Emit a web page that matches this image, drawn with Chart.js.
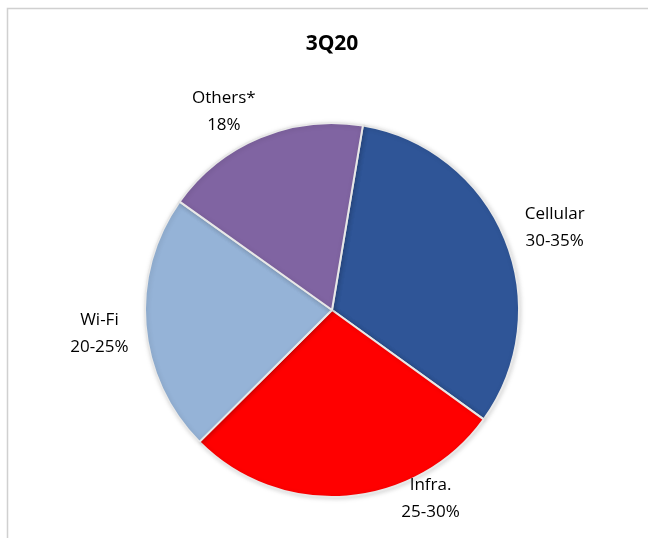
<!DOCTYPE html>
<html>
<head>
<meta charset="utf-8">
<script src="https://cdn.jsdelivr.net/npm/chart.js@4.4.1/dist/chart.umd.min.js"></script>
<style>
  html, body { margin: 0; padding: 0; background: #fff; }
  #wrap { width: 648px; height: 538px; }
</style>
</head>
<body>
<div id="wrap"><canvas id="pieChart" width="648" height="538"></canvas></div>
<script>
// data
var categories = ['Cellular', 'Infra.', 'Wi-Fi', 'Others*'];
var shareValues = [32.3, 27.6, 22.3, 17.8];
var shareLabels = ['30-35%', '25-30%', '20-25%', '18%'];
var chartTitle = '3Q20';

var sliceColors = ['#2F5597', '#FF0000', '#95B3D7', '#8064A2'];
// label placement: angle shift from slice middle (deg) and distance as radius factor
var labelPlace = [
    { shift: 2, dist: 1.27 },
    { shift: -23, dist: 1.14 },
    { shift: -1, dist: 1.25 },
    { shift: -6, dist: 1.21 }
];

var fontName = '"Open Sans", "Noto Sans", sans-serif';

var frameAndText = {
    id: 'frameAndText',
    beforeDraw: function(chart) {
        var c = chart.ctx;
        c.save();
        c.strokeStyle = '#d0d0d0';
        c.lineWidth = 1.5;
        c.beginPath();
        c.moveTo(7.5, chart.height);
        c.lineTo(7.5, 8.5);
        c.lineTo(chart.width, 8.5);
        c.stroke();
        c.restore();
    },
    beforeDatasetsDraw: function(chart) {
        var c = chart.ctx;
        c.save();
        c.shadowColor = 'rgba(0,0,0,0.15)';
        c.shadowBlur = 5;
        c.shadowOffsetX = 1;
        c.shadowOffsetY = 1;
    },
    afterDatasetsDraw: function(chart) {
        var c = chart.ctx;
        c.restore();
        var meta = chart.getDatasetMeta(0);
        c.save();
        c.fillStyle = '#000';
        c.textAlign = 'center';
        c.textBaseline = 'middle';
        c.font = '17px ' + fontName;
        meta.data.forEach(function(arc, i) {
            var p = arc.getProps(['x', 'y', 'startAngle', 'endAngle', 'outerRadius'], true);
            var mid = (p.startAngle + p.endAngle) / 2 + labelPlace[i].shift * Math.PI / 180;
            var r = p.outerRadius * labelPlace[i].dist;
            var lx = p.x + Math.cos(mid) * r;
            var ly = p.y + Math.sin(mid) * r;
            c.fillText(categories[i], lx, ly - 13.5);
            c.fillText(shareLabels[i], lx, ly + 13.5);
        });
        // title
        var ca = chart.chartArea;
        c.font = 'bold 21px ' + fontName;
        c.fillText(chartTitle, (ca.left + ca.right) / 2, 44);
        c.restore();
    }
};

var pieCtx = document.getElementById('pieChart').getContext('2d');
var pieChart = new Chart(pieCtx, {
    type: 'pie',
    data: {
        labels: categories,
        datasets: [{
            data: shareValues,
            backgroundColor: sliceColors,
            borderColor: '#e8e8e8',
            borderWidth: 2
        }]
    },
    options: {
        responsive: false,
        animation: false,
        rotation: 9.5,
        layout: {
            padding: { top: 122, bottom: 40, left: 144, right: 128 }
        },
        plugins: {
            legend: { display: false },
            title: { display: false },
            tooltip: { enabled: false }
        }
    },
    plugins: [frameAndText]
});
</script>
</body>
</html>
